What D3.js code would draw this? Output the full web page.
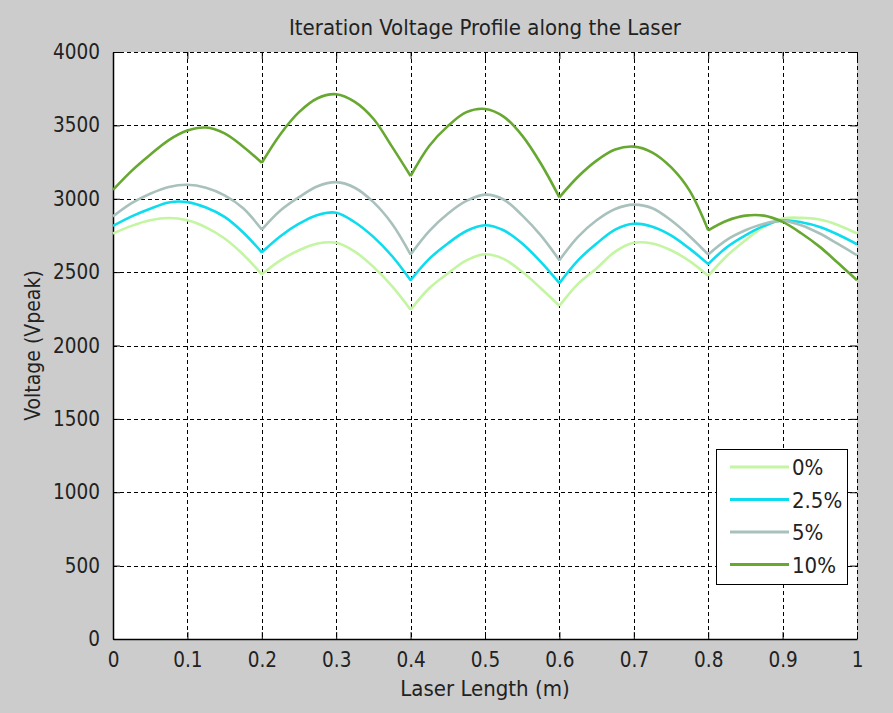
<!DOCTYPE html>
<html>
<head>
<meta charset="utf-8">
<script src="https://cdn.jsdelivr.net/npm/d3@7"></script>
<style>
  body { margin: 0; background: #cccccc; }
  svg text { font-family: "DejaVu Sans Condensed", "DejaVu Sans", sans-serif; font-stretch: condensed; fill: #222; }
</style>
</head>
<body>
<svg id="chart" width="893" height="713"></svg>
<script>
// positions along the laser (m)
var xs = [0, 0.025, 0.05, 0.075, 0.1, 0.125, 0.15, 0.175, 0.2,
          0.225, 0.25, 0.275, 0.3, 0.325, 0.35, 0.375, 0.4,
          0.425, 0.45, 0.475, 0.5, 0.525, 0.55, 0.575, 0.6,
          0.625, 0.65, 0.675, 0.7, 0.725, 0.75, 0.775, 0.8,
          0.825, 0.85, 0.875, 0.9, 0.925, 0.95, 0.975, 1];

var v0 = [2763, 2815, 2853, 2869, 2853, 2805, 2729, 2620, 2485,
          2580, 2649, 2695, 2700, 2640, 2536, 2405, 2244,
          2390, 2491, 2580, 2622, 2590, 2502, 2390, 2270,
          2420, 2525, 2640, 2700, 2695, 2649, 2575, 2475,
          2610, 2717, 2810, 2865, 2870, 2858, 2820, 2763];
var v25 = [2815, 2880, 2932, 2975, 2977, 2940, 2876, 2770, 2635,
           2745, 2830, 2890, 2905, 2840, 2740, 2610, 2445,
           2590, 2695, 2780, 2819, 2785, 2695, 2570, 2425,
           2580, 2695, 2790, 2830, 2810, 2751, 2660, 2555,
           2670, 2751, 2815, 2853, 2840, 2808, 2755, 2690];
var v5 = [2880, 2970, 3034, 3080, 3095, 3075, 3023, 2935, 2790,
          2920, 3011, 3085, 3113, 3075, 2977, 2830, 2620,
          2780, 2898, 2985, 3028, 2995, 2887, 2750, 2581,
          2740, 2853, 2930, 2960, 2935, 2853, 2745, 2620,
          2720, 2785, 2830, 2849, 2820, 2763, 2690, 2615];
var v10 = [3060, 3190, 3300, 3400, 3465, 3485, 3445, 3355, 3245,
           3440, 3590, 3685, 3712, 3660, 3545, 3355, 3155,
           3360, 3495, 3590, 3612, 3560, 3430, 3240, 3010,
           3150, 3260, 3335, 3355, 3315, 3215, 3055, 2785,
           2850, 2885, 2885, 2842, 2765, 2672, 2560, 2445];

var names = ["0%", "2.5%", "5%", "10%"];
var colors = ["#c4f5a2", "#0ddcee", "#a9c1bc", "#66a830"];
var xTicks = [0, 0.1, 0.2, 0.3, 0.4, 0.5, 0.6, 0.7, 0.8, 0.9, 1];
var yTicks = [0, 500, 1000, 1500, 2000, 2500, 3000, 3500, 4000];
// electrode joints where the profile has a cusp
var joints = [0, 0.2, 0.4, 0.6, 0.8, 1];

var series = [v0, v25, v5, v10];

var margin = {top: 52, right: 36, bottom: 74, left: 113},
    width = 893 - margin.left - margin.right,
    height = 713 - margin.top - margin.bottom;

var svg = d3.select("#chart");
var g = svg.append("g")
    .attr("transform", "translate(" + margin.left + "," + margin.top + ")");

var x = d3.scaleLinear().domain([0, 1]).range([0, width]);
var y = d3.scaleLinear().domain([0, 4000]).range([height, 0]);

g.append("rect")
    .attr("width", width)
    .attr("height", height)
    .attr("fill", "#fff");

// dashed grid
g.selectAll(".vgrid").data(xTicks).enter().append("line")
    .attr("x1", function(d) { return Math.round(x(d)) + 0.5; })
    .attr("x2", function(d) { return Math.round(x(d)) + 0.5; })
    .attr("y1", 0).attr("y2", height)
    .attr("stroke", "#000").attr("stroke-dasharray", "4,3");
g.selectAll(".hgrid").data(yTicks).enter().append("line")
    .attr("y1", function(d) { return Math.round(y(d)) + 0.5; })
    .attr("y2", function(d) { return Math.round(y(d)) + 0.5; })
    .attr("x1", 0).attr("x2", width)
    .attr("stroke", "#000").attr("stroke-dasharray", "4,3");

// axes: solid left and bottom, ticks inside
var xAxis = d3.axisBottom(x).tickValues(xTicks).tickSizeInner(-7).tickSizeOuter(0)
    .tickPadding(13).tickFormat(d3.format("~g"));
var yAxis = d3.axisLeft(y).tickValues(yTicks).tickSizeInner(-7).tickSizeOuter(0)
    .tickPadding(13).tickFormat(d3.format("d"));

var gx = g.append("g").attr("transform", "translate(0," + height + ")").call(xAxis);
var gy = g.append("g").call(yAxis);
[gx, gy].forEach(function(a) {
  a.select(".domain").attr("stroke", "#000").attr("stroke-width", 1.5);
  a.selectAll(".tick line").attr("stroke", "#000");
  a.selectAll("text").attr("font-size", 20.5).attr("fill", "#222")
    .attr("font-family", null);
});

// small ticks on top and right edges
g.append("g").call(d3.axisTop(x).tickValues(xTicks).tickSizeInner(-7).tickSizeOuter(0).tickFormat(""))
  .call(function(a) { a.select(".domain").remove(); a.selectAll("line").attr("stroke", "#000"); });
g.append("g").attr("transform", "translate(" + width + ",0)")
  .call(d3.axisRight(y).tickValues(yTicks).tickSizeInner(-7).tickSizeOuter(0).tickFormat(""))
  .call(function(a) { a.select(".domain").remove(); a.selectAll("line").attr("stroke", "#000"); });

var line = d3.line()
    .x(function(d) { return x(d[0]); })
    .y(function(d) { return y(d[1]); })
    .curve(d3.curveCatmullRom.alpha(0.5));

// each arch between joints is smoothed on its own so the cusps stay sharp
function archPath(vals) {
  var pts = xs.map(function(xv, i) { return [xv, vals[i]]; });
  var d = "";
  for (var j = 0; j < joints.length - 1; j++) {
    var seg = pts.filter(function(p) { return p[0] >= joints[j] - 1e-9 && p[0] <= joints[j + 1] + 1e-9; });
    d += line(seg);
  }
  return d;
}

g.selectAll(".series").data(series).enter().append("path")
    .attr("fill", "none")
    .attr("stroke", function(d, i) { return colors[i]; })
    .attr("stroke-width", 2.6)
    .attr("stroke-linejoin", "round")
    .attr("d", archPath);

// legend
var lg = g.append("g").attr("transform", "translate(" + (716 - margin.left) + "," + (449 - margin.top) + ")");
lg.append("rect")
    .attr("x", 0.5).attr("y", 0.5)
    .attr("width", 131).attr("height", 135)
    .attr("fill", "#fff").attr("stroke", "#000");
names.forEach(function(n, i) {
  var yy = 18 + i * 32.5;
  lg.append("line")
    .attr("x1", 14).attr("x2", 73)
    .attr("y1", yy).attr("y2", yy)
    .attr("stroke", colors[i]).attr("stroke-width", 3);
  lg.append("text")
    .attr("x", 76).attr("y", yy + 8)
    .attr("font-size", 22)
    .text(n);
});

// title and labels
svg.append("text")
    .attr("x", margin.left + width / 2).attr("y", 35)
    .attr("text-anchor", "middle").attr("font-size", 22)
    .text("Iteration Voltage Profile along the Laser");
svg.append("text")
    .attr("x", margin.left + width / 2).attr("y", 696)
    .attr("text-anchor", "middle").attr("font-size", 22)
    .text("Laser Length (m)");
svg.append("text")
    .attr("transform", "translate(40," + (margin.top + height / 2) + ") rotate(-90)")
    .attr("text-anchor", "middle").attr("font-size", 21)
    .text("Voltage (Vpeak)");
</script>
</body>
</html>
